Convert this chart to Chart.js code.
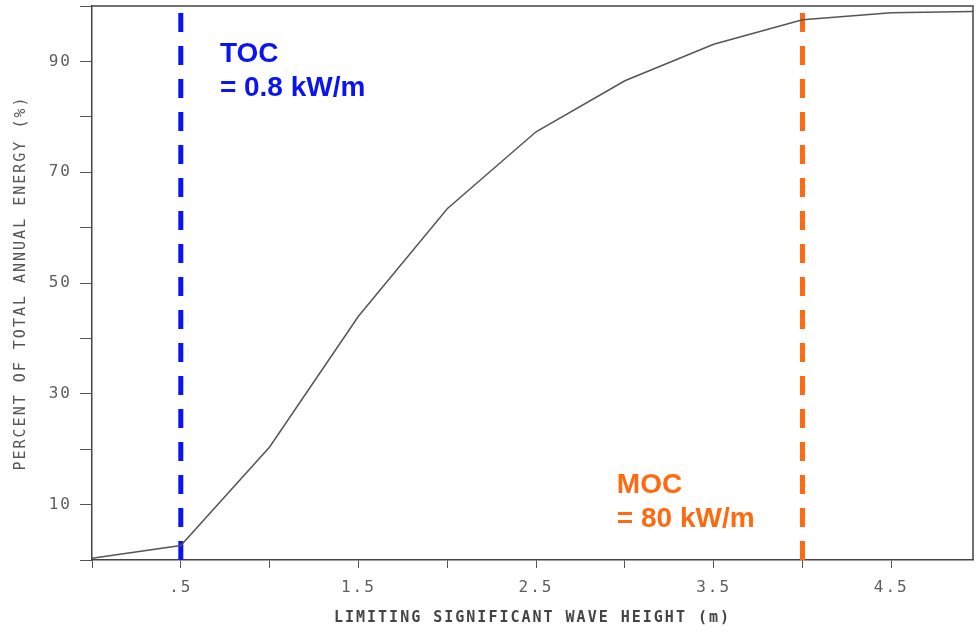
<!DOCTYPE html>
<html>
<head>
<meta charset="utf-8">
<script src="https://cdn.jsdelivr.net/npm/chart.js@4.4.1/dist/chart.umd.min.js"></script>
<style>
  html, body { margin: 0; padding: 0; background: #fff; }
  #wrap { width: 976px; height: 632px; }
</style>
</head>
<body>
<div id="wrap"><canvas id="energy-chart"></canvas></div>
<script>
// Curve: cumulative share of annual energy vs limiting significant wave height
const waveHeights = [0, 0.5, 1.0, 1.5, 2.0, 2.5, 3.0, 3.5, 4.0, 4.5, 4.96];
const energyPct   = [0.3, 2.6, 20.4, 44.0, 63.4, 77.3, 86.5, 93.1, 97.5, 98.8, 99.0];

// Axis ticks
const xTickValues = [0, 0.5, 1, 1.5, 2, 2.5, 3, 3.5, 4, 4.5];
const xTickLabels = ['', '.5', '', '1.5', '', '2.5', '', '3.5', '', '4.5'];
const yTickValues = [0, 10, 20, 30, 40, 50, 60, 70, 80, 90, 100];
const yTickLabels = ['', '10', '', '30', '', '50', '', '70', '', '90', ''];

// Dashed marker lines (TOC / MOC)
const markerX      = [0.5, 4.0];
const markerNames  = ['TOC', 'MOC'];
const markerValues = ['= 0.8 kW/m', '= 80 kW/m'];
const markerColors = ['#0a14f2', '#ff6a10'];
// where each label sits, in data units (x, baseline of first line)
const labelX = [0.72, 2.955];
const labelY = [89.9, 12.1];

const plotFont = 'DejaVu Sans Mono';

const markerSets = markerX.map((x, i) => ({
    label: markerNames[i],
    data: [{ x: x, y: 0 }, { x: x, y: 100 }],
    borderColor: markerColors[i],
    borderWidth: 5,
    borderDash: [19, 14],
    pointRadius: 0,
    showLine: true
}));

// letter-spaced plotter-like text for ticks and titles
const spacingPlugin = {
    id: 'spacing',
    beforeLayout(chart) { chart.ctx.letterSpacing = '2px'; },
    beforeDraw(chart) { chart.ctx.letterSpacing = '2px'; }
};

// top/right frame and the marker labels
const framePlugin = {
    id: 'frame',
    afterDraw(chart) {
        const { ctx, chartArea: a, scales } = chart;
        ctx.save();
        ctx.strokeStyle = '#444';
        ctx.lineWidth = 1.5;
        ctx.beginPath();
        ctx.moveTo(a.left, a.top);
        ctx.lineTo(a.right, a.top);
        ctx.lineTo(a.right, a.bottom);
        ctx.stroke();

        ctx.letterSpacing = '0px';
        ctx.font = 'bold 28px "Liberation Sans", Arial, sans-serif';
        ctx.textAlign = 'left';
        ctx.textBaseline = 'alphabetic';
        markerNames.forEach((name, i) => {
            const px = scales.x.getPixelForValue(labelX[i]);
            const py = scales.y.getPixelForValue(labelY[i]);
            ctx.fillStyle = markerColors[i];
            ctx.fillText(name, px, py);
            ctx.fillText(markerValues[i], px, py + 34);
        });
        ctx.restore();
    }
};

new Chart(document.getElementById('energy-chart'), {
    type: 'scatter',
    data: {
        datasets: [{
            label: 'Energy',
            data: waveHeights.map((h, i) => ({ x: h, y: energyPct[i] })),
            borderColor: '#555',
            borderWidth: 1.5,
            pointRadius: 0,
            showLine: true,
            tension: 0
        }, ...markerSets]
    },
    options: {
        responsive: true,
        maintainAspectRatio: false,
        animation: false,
        layout: { padding: { top: 6, right: 3, left: 0, bottom: 0 } },
        plugins: {
            legend: { display: false },
            tooltip: { enabled: false }
        },
        scales: {
            x: {
                type: 'linear',
                min: 0,
                max: 4.96,
                afterBuildTicks: scale => { scale.ticks = xTickValues.map(v => ({ value: v })); },
                afterFit: scale => {
                    scale.height = 72;
                    scale.paddingLeft = 0;
                    scale.paddingRight = 0;
                },
                border: { color: '#444', width: 1.5 },
                grid: { drawOnChartArea: false, tickLength: 8, color: '#555' },
                ticks: {
                    autoSkip: false,
                    maxRotation: 0,
                    padding: 10,
                    color: '#5e5e5e',
                    font: { family: plotFont, size: 16 },
                    callback: value => {
                        const idx = xTickValues.indexOf(value);
                        return idx >= 0 ? xTickLabels[idx] : '';
                    }
                },
                title: {
                    display: true,
                    text: 'LIMITING SIGNIFICANT WAVE HEIGHT (m)',
                    color: '#444',
                    font: { family: plotFont, size: 15, weight: 'bold' },
                    padding: { top: 0, bottom: 5 }
                }
            },
            y: {
                min: 0,
                max: 100,
                afterBuildTicks: scale => { scale.ticks = yTickValues.map(v => ({ value: v })); },
                afterFit: scale => {
                    scale.width = 92;
                    scale.paddingTop = 0;
                    scale.paddingBottom = 0;
                },
                border: { color: '#444', width: 1.5 },
                grid: { drawOnChartArea: false, tickLength: 12, color: '#555' },
                ticks: {
                    autoSkip: false,
                    padding: 8,
                    color: '#5e5e5e',
                    font: { family: plotFont, size: 16 },
                    callback: value => {
                        const idx = yTickValues.indexOf(value);
                        return idx >= 0 ? yTickLabels[idx] : '';
                    }
                },
                title: {
                    display: true,
                    text: 'PERCENT OF TOTAL ANNUAL ENERGY (%)',
                    color: '#555',
                    font: { family: plotFont, size: 15 },
                    padding: { top: 12, bottom: 0 }
                }
            }
        }
    },
    plugins: [spacingPlugin, framePlugin]
});
</script>
</body>
</html>
